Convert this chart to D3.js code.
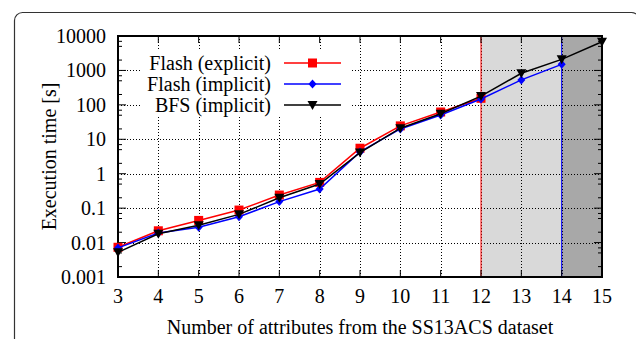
<!DOCTYPE html>
<html><head><meta charset="utf-8">
<script src="https://cdn.jsdelivr.net/npm/d3@7"></script>
<style>body{margin:0;background:#fff}svg{display:block}text{font-family:"Liberation Serif","Times New Roman",serif;fill:#000}</style>
</head><body><svg id="c" width="636" height="339"></svg>
<script>
const attrs = [3,4,5,6,7,8,9,10,11,12,13,14,15];
const flashExplicit = [0.0073,0.022,0.044,0.088,0.24,0.56,5.5,24.5,62,155];
const flashImplicit = [0.007,0.019,0.028,0.056,0.155,0.36,4.3,20,51,148,530,1500];
const bfsImplicit = [0.0052,0.018,0.032,0.066,0.2,0.5,4.1,21,55,180,825,2100,6800];
const yTicks = [0.001,0.01,0.1,1,10,100,1000,10000];
const yTickLabels = ["0.001","0.01","0.1","1","10","100","1000","10000"];
const legendNames = ["Flash (explicit)","Flash (implicit)","BFS (implicit)"];
const colors = ["#ff0000","#0000ff","#000000"];
const explicitLimit = 12, implicitLimit = 14;

const svg = d3.select("#c");
const L=118, R=602, T=36, B=277;
const x = d3.scaleLinear().domain([3,15]).range([L,R]);
const y = d3.scaleLog().domain([0.001,10000]).range([B,T]);

// outer rounded frame
svg.append("rect").attr("x",14.5).attr("y",12.5).attr("width",625).attr("height",400).attr("rx",8)
  .attr("fill","none").attr("stroke","#333").attr("stroke-width",1.2);

// shaded regions
svg.append("rect").attr("x",x(explicitLimit)).attr("y",T).attr("width",x(implicitLimit)-x(explicitLimit)).attr("height",B-T).attr("fill","#d9d9d9");
svg.append("rect").attr("x",x(implicitLimit)).attr("y",T).attr("width",x(15)-x(implicitLimit)).attr("height",B-T).attr("fill","#a8a8a8");

// grid
const grid = svg.append("g").attr("stroke","#000").attr("stroke-width",1).attr("stroke-dasharray","1,2");
attrs.slice(1,-1).forEach(v=>grid.append("line").attr("x1",Math.round(x(v))+0.5).attr("x2",Math.round(x(v))+0.5).attr("y1",T).attr("y2",B));
yTicks.slice(1,-1).forEach(v=>grid.append("line").attr("x1",L).attr("x2",R).attr("y1",Math.round(y(v))+0.5).attr("y2",Math.round(y(v))+0.5));

// limit lines
svg.append("line").attr("x1",x(explicitLimit)).attr("x2",x(explicitLimit)).attr("y1",T).attr("y2",B).attr("stroke","#ff0000").attr("stroke-width",1);
svg.append("line").attr("x1",x(implicitLimit)).attr("x2",x(implicitLimit)).attr("y1",T).attr("y2",B).attr("stroke","#0000ff").attr("stroke-width",1);

// legend box (opaque)
svg.append("rect").attr("x",140).attr("y",51).attr("width",210).attr("height",66).attr("fill","#fff");

// ticks
const tk = svg.append("g").attr("stroke","#000").attr("stroke-width",1);
attrs.forEach(v=>{
  const xx=x(v);
  tk.append("line").attr("x1",xx).attr("x2",xx).attr("y1",B).attr("y2",B-7);
  tk.append("line").attr("x1",xx).attr("x2",xx).attr("y1",T).attr("y2",T+7);
});
yTicks.forEach((v,i)=>{
  const yy=y(v);
  tk.append("line").attr("x1",L).attr("x2",L+8).attr("y1",yy).attr("y2",yy);
  tk.append("line").attr("x1",R).attr("x2",R-8).attr("y1",yy).attr("y2",yy);
  if(i<yTicks.length-1){
    [2,5,7].forEach(m=>{
      const ym=y(v*m);
      tk.append("line").attr("x1",L).attr("x2",L+4).attr("y1",ym).attr("y2",ym);
      tk.append("line").attr("x1",R).attr("x2",R-4).attr("y1",ym).attr("y2",ym);
    });
  }
});

// frame
svg.append("rect").attr("x",L).attr("y",T).attr("width",R-L).attr("height",B-T).attr("fill","none").attr("stroke","#000").attr("stroke-width",2);

// tick labels
yTicks.forEach((v,i)=>svg.append("text").attr("x",106).attr("y",y(v)).attr("dy","0.35em").attr("text-anchor","end").attr("font-size",20).text(yTickLabels[i]));
attrs.forEach(v=>svg.append("text").attr("x",x(v)).attr("y",303).attr("text-anchor","middle").attr("font-size",20).text(v));

// axis titles
svg.append("text").attr("x",(L+R)/2).attr("y",334).attr("text-anchor","middle").attr("font-size",20).text("Number of attributes from the SS13ACS dataset");
svg.append("text").attr("transform",`translate(56,${(T+B)/2}) rotate(-90)`).attr("text-anchor","middle").attr("font-size",20).text("Execution time [s]");

// series
const series = [flashExplicit, flashImplicit, bfsImplicit];
const line = d3.line().x((d,i)=>x(attrs[i])).y(d=>y(d));
function marker(g,k,cx,cy){
  if(k===0) g.append("rect").attr("x",cx-4.5).attr("y",cy-4.5).attr("width",9).attr("height",9).attr("fill",colors[0]);
  else if(k===1) g.append("path").attr("d",`M${cx},${cy-4.5}L${cx+4},${cy}L${cx},${cy+4.5}L${cx-4},${cy}Z`).attr("fill",colors[1]);
  else g.append("path").attr("d",`M${cx-5},${cy-4}L${cx+5},${cy-4}L${cx},${cy+5}Z`).attr("fill",colors[2]);
}
series.forEach((s,k)=>{
  const g=svg.append("g");
  g.append("path").datum(s).attr("d",line).attr("fill","none").attr("stroke",colors[k]).attr("stroke-width",1.5);
  s.forEach((d,i)=>marker(g,k,x(attrs[i]),y(d)));
});

// legend
const ly=[63,84,105];
legendNames.forEach((n,k)=>{
  svg.append("text").attr("x",271).attr("y",ly[k]).attr("dy","0.35em").attr("text-anchor","end").attr("font-size",20).text(n);
  svg.append("line").attr("x1",284).attr("x2",341).attr("y1",ly[k]).attr("y2",ly[k]).attr("stroke",colors[k]).attr("stroke-width",1.5);
  marker(svg,k,312.5,ly[k]);
});
</script></body></html>
